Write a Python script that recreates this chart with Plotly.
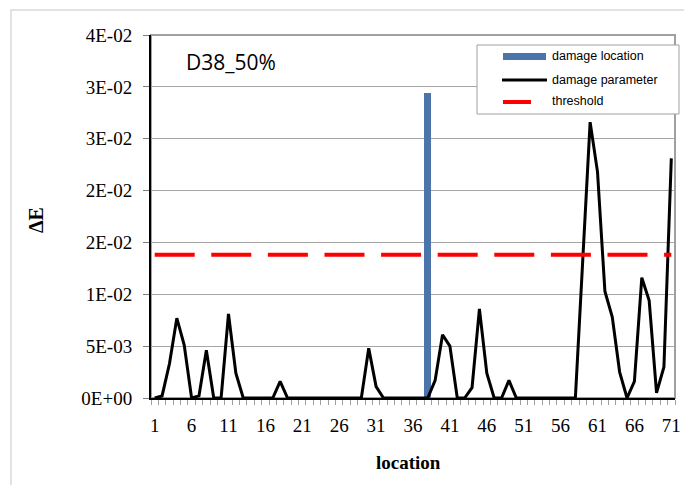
import plotly.graph_objects as go

locations = list(range(1, 72))
damage_parameter = [
    0, 0.0002, 0.0033, 0.0077, 0.0051, 0, 0.0002, 0.0046, 0, 0,
    0.0081, 0.0024, 0, 0, 0, 0, 0, 0.0016, 0, 0,
    0, 0, 0, 0, 0, 0, 0, 0, 0, 0.0048,
    0.0011, 0, 0, 0, 0, 0, 0, 0, 0.0017, 0.0061,
    0.0050, 0, 0, 0.0010, 0.0086, 0.0024, 0, 0, 0.0017, 0,
    0, 0, 0, 0, 0, 0, 0, 0, 0.0133, 0.0266,
    0.0218, 0.0103, 0.0078, 0.0025, 0, 0.0016, 0.0116, 0.0094, 0.0005, 0.0030,
    0.0231,
]
damage_location_x = [38]
damage_location_y = [0.0294]
threshold_value = 0.0138
threshold = [threshold_value] * len(locations)

y_tickvals = [0, 0.005, 0.01, 0.015, 0.02, 0.025, 0.03, 0.035]
y_ticktext = ["0E+00", "5E-03", "1E-02", "2E-02", "2E-02", "3E-02", "3E-02", "4E-02"]
x_tickvals = list(range(1, 72, 5))
legend_names = ["damage location", "damage parameter", "threshold"]

BLUE = "#4A74AA"
RED = "#FF0000"

fig = go.Figure()
fig.add_trace(go.Bar(x=damage_location_x, y=damage_location_y, width=1.0,
                     marker=dict(color=BLUE, line=dict(width=0)),
                     name=legend_names[0]))
fig.add_trace(go.Scatter(x=locations, y=damage_parameter, mode="lines",
                         line=dict(color="black", width=3),
                         name=legend_names[1]))
fig.add_trace(go.Scatter(x=locations, y=threshold, mode="lines",
                         line=dict(color=RED, width=4, dash="40px,16.6px"),
                         name=legend_names[2]))

W, H = 684, 485
L, R, T, B = 151, 9, 35, 87
pw, ph = W - L - R, H - T - B

def px(x):
    return (x - L) / pw

def py(y):
    return (H - B - y) / ph

shapes = [
    dict(type="rect", xref="paper", yref="paper",
         x0=0, x1=1, y0=0, y1=1, line=dict(color="#A0A0A0", width=2),
         layer="below"),
    dict(type="rect", xref="paper", yref="paper",
         x0=px(11), x1=px(700), y0=py(10), y1=py(500),
         line=dict(color="#D9D9D9", width=1.5), layer="below"),
    # legend box
    dict(type="rect", xref="paper", yref="paper",
         x0=px(477), x1=px(679), y0=py(45), y1=py(114),
         line=dict(color="#A0A0A0", width=1), fillcolor="white", layer="above"),
    dict(type="line", xref="paper", yref="paper",
         x0=px(503), x1=px(546), y0=py(56.5), y1=py(56.5),
         line=dict(color=BLUE, width=7), layer="above"),
    dict(type="line", xref="paper", yref="paper",
         x0=px(502), x1=px(547), y0=py(80), y1=py(80),
         line=dict(color="black", width=3), layer="above"),
    dict(type="line", xref="paper", yref="paper",
         x0=px(503), x1=px(531), y0=py(102), y1=py(102),
         line=dict(color=RED, width=4), layer="above"),
]

legend_text_y = [56, 80, 101]
annotations = [
    dict(text="D38_50%", x=px(231), y=py(62), xref="paper", yref="paper",
         xanchor="center", yanchor="middle", showarrow=False,
         font=dict(family="Open Sans", size=21, color="black")),
    dict(text="<b>ΔE</b>", x=px(36), y=py(220), xref="paper", yref="paper",
         xanchor="center", yanchor="middle", showarrow=False, textangle=-90,
         font=dict(family="Liberation Serif", size=20, color="black")),
    dict(text="<b>location</b>", x=px(408), y=py(462), xref="paper", yref="paper",
         xanchor="center", yanchor="middle", showarrow=False,
         font=dict(family="Liberation Serif", size=19, color="black")),
]
for name, ty in zip(legend_names, legend_text_y):
    annotations.append(dict(text=name, x=px(550), y=py(ty), xref="paper", yref="paper",
                            xanchor="left", yanchor="middle", showarrow=False,
                            font=dict(family="Liberation Sans", size=12.5, color="black")))

fig.update_layout(
    width=W, height=H, autosize=False,
    margin=dict(l=L, r=R, t=T, b=B, autoexpand=False),
    paper_bgcolor="white", plot_bgcolor="white",
    bargap=0,
    font=dict(family="Liberation Serif", color="black"),
    showlegend=False,
    xaxis=dict(range=[0.5, 71.5], tickvals=x_tickvals, automargin=False,
               ticks="outside", ticklen=9, tickcolor="rgba(0,0,0,0)",
               minor=dict(tick0=0.5, dtick=1, ticks="outside", ticklen=5,
                          tickcolor="#A0A0A0", tickwidth=1, showgrid=False),
               showgrid=False, zeroline=False,
               showline=True, linecolor="black", linewidth=2,
               tickfont=dict(family="Liberation Serif", size=19)),
    yaxis=dict(range=[0, 0.035], tickvals=y_tickvals, ticktext=y_ticktext,
               automargin=False,
               ticks="outside", ticklen=6, tickcolor="#808080",
               showgrid=True, gridcolor="#A6A6A6", gridwidth=1,
               zeroline=False, showline=True, linecolor="black", linewidth=2,
               ticklabelstandoff=7,
               tickfont=dict(family="Liberation Serif", size=19)),
    shapes=shapes,
    annotations=annotations,
)

fig.write_html("out.html", config={"displayModeBar": False, "responsive": False},
               post_script="document.body.style.margin='0';document.body.style.overflow='hidden';")
